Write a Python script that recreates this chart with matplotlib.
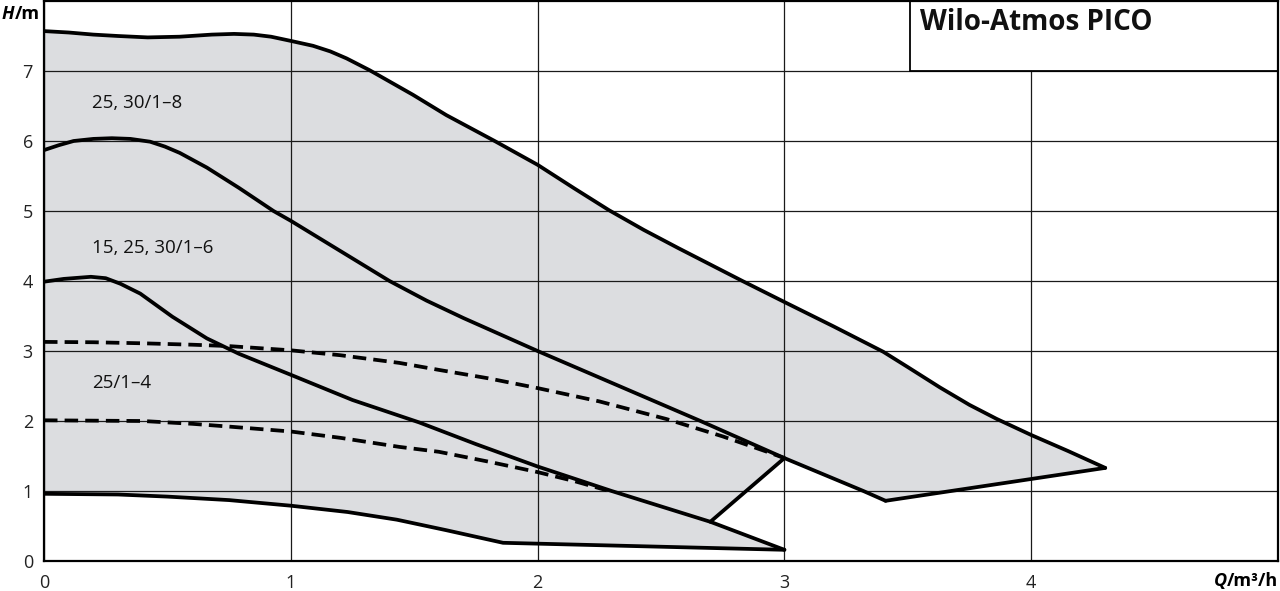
import numpy as np
import matplotlib
matplotlib.use('Agg')
import matplotlib.pyplot as plt
from matplotlib.patches import Rectangle

plt.rcParams['font.family'] = ['Open Sans', 'DejaVu Sans']

# max curve 25, 30/1-8
top_q = [0, 0.1, 0.2, 0.3, 0.42, 0.55, 0.68, 0.77, 0.85, 0.92, 1.0, 1.09, 1.16, 1.226, 1.32, 1.495, 1.63,
         1.826, 2.0, 2.15, 2.29, 2.43, 2.57, 2.83, 3.0, 3.2, 3.4, 3.5, 3.63, 3.75, 3.86, 4.0, 4.15, 4.30]
top_h = [7.57, 7.55, 7.52, 7.50, 7.48, 7.49, 7.52, 7.53, 7.52, 7.49, 7.43, 7.36, 7.28, 7.18, 7.01, 6.66, 6.37,
         6.0, 5.66, 5.32, 5.01, 4.73, 4.47, 4.0, 3.70, 3.35, 2.99, 2.77, 2.48, 2.23, 2.03, 1.80, 1.57, 1.33]

# max curve 15, 25, 30/1-6
six_q = [0, 0.06, 0.12, 0.2, 0.275, 0.35, 0.43, 0.49, 0.55, 0.66, 0.79, 0.93, 1.0, 1.2, 1.40, 1.55, 1.7,
         2.0, 2.33, 2.66, 3.0, 3.32, 3.41]
six_h = [5.87, 5.94, 6.0, 6.03, 6.04, 6.03, 5.99, 5.92, 5.83, 5.62, 5.33, 5.0, 4.86, 4.43, 4.0, 3.72, 3.47,
         3.0, 2.5, 2.0, 1.47, 1.0, 0.86]

# max curve 25/1-4
four_q = [0, 0.08, 0.19, 0.25, 0.31, 0.39, 0.52, 0.66, 0.79, 1.0, 1.25, 1.52, 1.75, 2.0, 2.30, 2.70, 3.0]
four_h = [3.99, 4.03, 4.06, 4.04, 3.96, 3.82, 3.49, 3.18, 2.96, 2.66, 2.3, 1.98, 1.67, 1.35, 1.0, 0.56, 0.16]

# dashed curves
dash1_q = [0, 0.2, 0.4, 0.6, 0.75, 1.0, 1.2, 1.44, 1.6, 1.8, 2.0, 2.25, 2.52, 2.75, 2.93, 3.0]
dash1_h = [3.13, 3.125, 3.11, 3.09, 3.07, 3.01, 2.94, 2.83, 2.73, 2.61, 2.47, 2.28, 2.03, 1.78, 1.56, 1.47]
dash2_q = [0, 0.2, 0.4, 0.6, 0.75, 1.0, 1.2, 1.44, 1.6, 1.8, 2.0, 2.15, 2.28]
dash2_h = [2.01, 2.005, 2.0, 1.96, 1.92, 1.85, 1.76, 1.63, 1.56, 1.42, 1.27, 1.14, 1.01]

# min curve
bot_q = [0, 0.3, 0.5, 0.75, 1.0, 1.23, 1.43, 1.63, 1.86, 3.0]
bot_h = [0.96, 0.95, 0.92, 0.87, 0.79, 0.70, 0.59, 0.44, 0.26, 0.16]

labels = ['25, 30/1–8', '15, 25, 30/1–6', '25/1–4']
label_h = [6.54, 4.47, 2.54]

fig = plt.figure(figsize=(12.8, 5.91), dpi=100)
ax = fig.add_axes([44 / 1280, 30 / 591, 1234 / 1280, 560 / 591])

# grey operating area
i6 = six_q.index(3.0)
i4 = four_q.index(2.70)
six_tail = list(zip(six_q[i6:], six_h[i6:]))[::-1]
four_tail = list(zip(four_q[i4:], four_h[i4:]))
poly = list(zip(top_q, top_h)) + six_tail + four_tail + list(zip(bot_q, bot_h))[::-1]
pq, ph = zip(*poly)
ax.fill(pq, ph, color='#dcdde0', lw=0, zorder=1)

kw = dict(color='black', lw=2.7, zorder=3, solid_joinstyle='round', solid_capstyle='round')
ax.plot(top_q, top_h, **kw)
ax.plot(six_q, six_h, **kw)
ax.plot(four_q, four_h, **kw)
ax.plot(bot_q, bot_h, **kw)
ax.plot([top_q[-1], six_q[-1]], [top_h[-1], six_h[-1]], **kw)
ax.plot([four_q[i4], six_q[i6]], [four_h[i4], six_h[i6]], **kw)
ax.plot(dash1_q, dash1_h, color='black', lw=2.7, ls=(0, (3.6, 1.9)), zorder=3)
ax.plot(dash2_q, dash2_h, color='black', lw=2.7, ls=(0, (3.6, 1.9)), zorder=3)

for txt, h in zip(labels, label_h):
    ax.text(0.195, h, txt, fontsize=13.5, va='center', ha='left', color='#111111', zorder=4)

ax.set_xlim(0, 5)
ax.set_ylim(0, 8)
ax.set_xticks([0, 1, 2, 3, 4])
ax.set_yticks([0, 1, 2, 3, 4, 5, 6, 7])
ax.grid(True, color='#1a1a1a', lw=0.9)
ax.set_axisbelow(False)
ax.tick_params(length=0, labelsize=13, colors='#222222')
ax.tick_params(axis='x', pad=9)
ax.tick_params(axis='y', pad=8)
for s in ax.spines.values():
    s.set_linewidth(1.6)
    s.set_zorder(5)

# title box
ax.add_patch(Rectangle((3.51, 7.0), 1.49, 1.0, facecolor='white', edgecolor='black', lw=1.3, zorder=4))
ax.text(3.548, 7.58, 'Wilo-Atmos PICO', fontsize=20, fontweight='bold', va='baseline', ha='left',
        color='#111111', zorder=5)

# axis titles
t1 = fig.text(2 / 1280, 1 - 19 / 591, 'H', fontsize=13, fontweight='bold', style='italic', va='baseline')
fig.canvas.draw()
bb = t1.get_window_extent()
fig.text(bb.x1 / 1280, 1 - 19 / 591, '/m', fontsize=13, fontweight='bold', va='baseline')

t2 = fig.text(1278 / 1280, 1 - 586 / 591, '/m³/h', fontsize=13, fontweight='bold', ha='right', va='baseline')
fig.canvas.draw()
bb = t2.get_window_extent()
fig.text(bb.x0 / 1280, 1 - 586 / 591, 'Q', fontsize=13, fontweight='bold', style='italic', ha='right', va='baseline')

fig.savefig('out.png', dpi=100)
